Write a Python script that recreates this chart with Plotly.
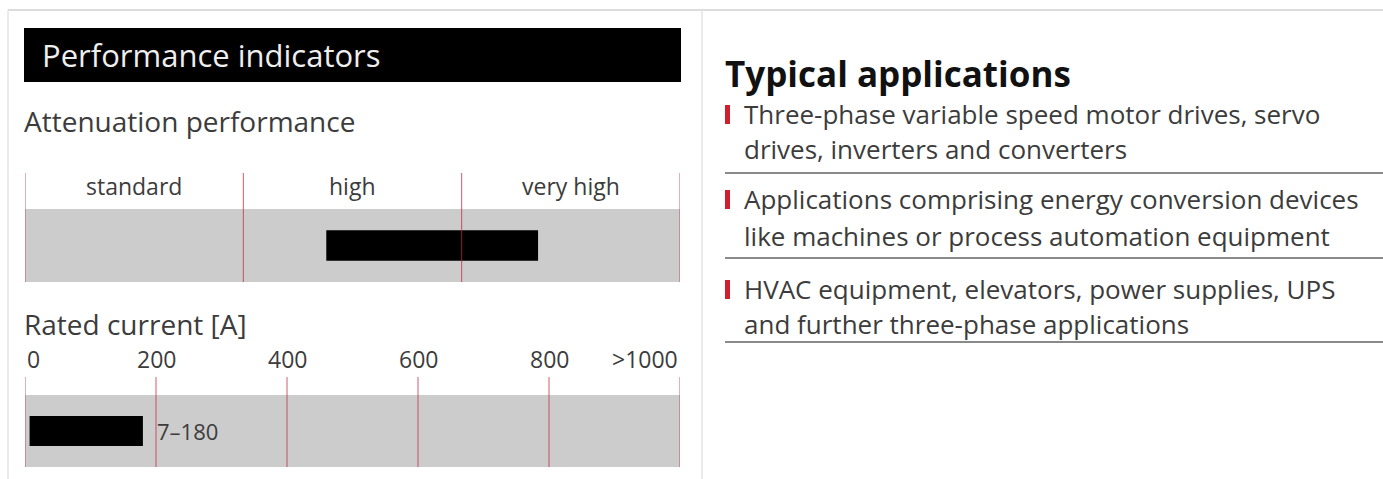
import plotly.graph_objects as go

# ---------------- data ----------------
attenuation_classes = ["standard", "high", "very high"]
attenuation_range = [1.38, 2.35]          # position of the bar on the 0..3 class scale

current_ticks = [0, 200, 400, 600, 800, 1000]
current_tick_labels = ["0", "200", "400", "600", "800", ">1000"]
current_range = [7, 180]
current_label = "7–180"

app_title = "Typical applications"
applications = [
    ["Three-phase variable speed motor drives, servo", "drives, inverters and converters"],
    ["Applications comprising energy conversion devices", "like machines or process automation equipment"],
    ["HVAC equipment, elevators, power supplies, UPS", "and further three-phase applications"],
]

# ---------------- layout helpers ----------------
W, H = 1383, 479
def X(px): return px / W
def Y(py): return 1 - py / H

FONT = "Open Sans"
TXT = "#3c3c3c"
RED = "#c0283a"
GRAY_BAND = "#cccccc"

fig = go.Figure()

# attenuation bar
fig.add_trace(go.Bar(
    orientation="h", y=[0], base=[attenuation_range[0]],
    x=[attenuation_range[1] - attenuation_range[0]],
    width=0.42, marker=dict(color="#000000", line=dict(width=0)),
    xaxis="x", yaxis="y", hoverinfo="skip", showlegend=False))

# current bar
fig.add_trace(go.Bar(
    orientation="h", y=[0], base=[current_range[0]],
    x=[current_range[1] - current_range[0]],
    width=0.42, marker=dict(color="#000000", line=dict(width=0)),
    xaxis="x2", yaxis="y2", hoverinfo="skip", showlegend=False))

shapes = []
annotations = []

# frame lines
shapes.append(dict(type="line", xref="paper", yref="paper", x0=X(8), x1=1, y0=Y(10), y1=Y(10),
                   line=dict(color="#dcdcdc", width=2)))
shapes.append(dict(type="line", xref="paper", yref="paper", x0=X(8), x1=X(8), y0=Y(10), y1=0,
                   line=dict(color="#e4e4e4", width=1.5)))
shapes.append(dict(type="line", xref="paper", yref="paper", x0=X(702), x1=X(702), y0=Y(10), y1=0,
                   line=dict(color="#e4e4e4", width=1.5)))

# header bar
shapes.append(dict(type="rect", xref="paper", yref="paper", x0=X(24), x1=X(681), y0=Y(82), y1=Y(28),
                   fillcolor="#000000", line=dict(width=0), layer="below"))
annotations.append(dict(text="Performance indicators", xref="paper", yref="paper", x=X(40), y=Y(55),
                        xanchor="left", yanchor="middle", showarrow=False,
                        font=dict(family=FONT, size=31, color="#eeeeee")))

annotations.append(dict(text="Attenuation performance", xref="paper", yref="paper", x=X(22), y=Y(121),
                        xanchor="left", yanchor="middle", showarrow=False,
                        font=dict(family=FONT, size=28, color=TXT)))
annotations.append(dict(text="Rated current [A]", xref="paper", yref="paper", x=X(22), y=Y(324),
                        xanchor="left", yanchor="middle", showarrow=False,
                        font=dict(family=FONT, size=28, color=TXT)))

# attenuation class boundaries and labels
for i in range(len(attenuation_classes) + 1):
    shapes.append(dict(type="line", xref="x", yref="paper", x0=i, x1=i, y0=Y(282), y1=Y(173),
                       line=dict(color=RED, width=1), opacity=0.75, layer="above"))
for i, name in enumerate(attenuation_classes):
    annotations.append(dict(text=name, xref="x", yref="paper", x=i + 0.5, y=Y(186),
                            xanchor="center", yanchor="middle", showarrow=False,
                            font=dict(family=FONT, size=23, color=TXT)))

# current grid lines and labels
n = len(current_ticks)
for i, (t, lab) in enumerate(zip(current_ticks, current_tick_labels)):
    shapes.append(dict(type="line", xref="x2", yref="paper", x0=t, x1=t, y0=Y(467), y1=Y(377),
                       line=dict(color=RED, width=1), opacity=0.75, layer="above"))
    anchor = "left" if i == 0 else ("right" if i == n - 1 else "center")
    annotations.append(dict(text=lab, xref="x2", yref="paper", x=t, y=Y(359),
                            xanchor=anchor, yanchor="middle", showarrow=False,
                            font=dict(family=FONT, size=23, color=TXT)))

annotations.append(dict(text=current_label, xref="x2", yref="y2", x=current_range[1], y=0,
                        xanchor="left", yanchor="middle", xshift=12, showarrow=False,
                        font=dict(family=FONT, size=22, color=TXT)))

# right column
annotations.append(dict(text="<b>" + app_title + "</b>", xref="paper", yref="paper", x=X(723), y=Y(73),
                        xanchor="left", yanchor="middle", showarrow=False,
                        font=dict(family=FONT, size=35, color="#111111")))
line_y = [(114, 149), (199, 236), (289, 324)]
sep_y = [173, 258, 342]
for item, (ya, yb), ys in zip(applications, line_y, sep_y):
    shapes.append(dict(type="rect", xref="paper", yref="paper", x0=X(725), x1=X(730),
                       y0=Y(ya + 10), y1=Y(ya - 9), fillcolor="#d0202e", line=dict(width=0)))
    for txt, yy in zip(item, (ya, yb)):
        annotations.append(dict(text=txt, xref="paper", yref="paper", x=X(742), y=Y(yy),
                                xanchor="left", yanchor="middle", showarrow=False,
                                font=dict(family=FONT, size=26, color=TXT)))
    shapes.append(dict(type="line", xref="paper", yref="paper", x0=X(725), x1=1, y0=Y(ys), y1=Y(ys),
                       line=dict(color="#8a8a8a", width=2)))

axis_common = dict(showgrid=False, zeroline=False, showticklabels=False, ticks="", showline=False,
                   fixedrange=True)

fig.update_layout(
    width=W, height=H,
    margin=dict(l=0, r=0, t=0, b=0),
    paper_bgcolor="#ffffff",
    plot_bgcolor=GRAY_BAND,
    barmode="overlay",
    showlegend=False,
    xaxis=dict(domain=[X(25), X(680)], range=[0, len(attenuation_classes)], anchor="y", **axis_common),
    yaxis=dict(domain=[Y(282), Y(209)], range=[-0.5, 0.5], anchor="x", **axis_common),
    xaxis2=dict(domain=[X(25), X(680)], range=[current_ticks[0], current_ticks[-1]], anchor="y2", **axis_common),
    yaxis2=dict(domain=[Y(467), Y(395)], range=[-0.5, 0.5], anchor="x2", **axis_common),
    shapes=shapes,
    annotations=annotations,
)

fig.write_html("out.html", config={"displayModeBar": False},
               post_script="document.body.style.margin='0';document.body.style.overflow='hidden';")
